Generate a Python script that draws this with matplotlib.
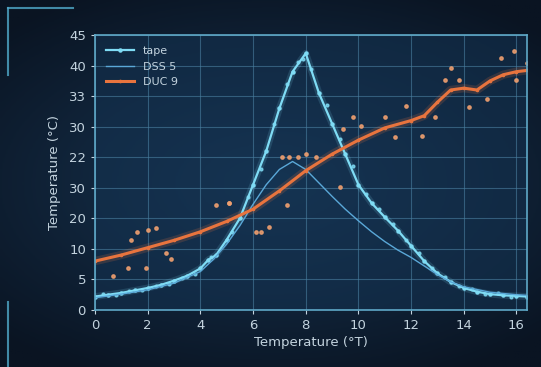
import matplotlib.pyplot as plt
import matplotlib as mpl
import numpy as np

mpl.rcParams['font.family'] = ['DejaVu Sans']

# main cyan curve
main_x = [0, 0.5, 1, 1.5, 2, 2.5, 3, 3.5, 4, 4.3, 4.6, 5, 5.5, 6, 6.5, 7, 7.5, 8,
          8.5, 9, 9.5, 10, 10.5, 11, 11.5, 12, 12.5, 13, 13.5, 14, 14.5, 15, 15.5, 16, 16.4]
main_y = [2.2, 2.5, 2.8, 3.2, 3.6, 4.1, 4.8, 5.6, 6.8, 8.2, 9.0, 11.5, 15.0, 20.5, 26.0,
          33.0, 39.0, 42.0, 35.5, 30.5, 25.5, 20.5, 17.5, 15.2, 13.0, 10.5, 8.0, 6.0,
          4.6, 3.6, 3.0, 2.6, 2.4, 2.3, 2.2]

# cyan noise dots around the main curve
cdots_x = [0.3, 0.8, 1.3, 1.8, 2.3, 2.8, 3.3, 3.8, 4.4, 5.2, 5.8, 6.3, 6.8, 7.3, 7.7,
           7.9, 8.2, 8.8, 9.3, 9.8, 10.3, 10.8, 11.3, 11.8, 12.3, 12.8, 13.3, 13.8,
           14.3, 14.8, 15.3, 15.8]
cdots_y = [2.6, 2.4, 3.1, 3.2, 4.0, 4.2, 5.3, 5.9, 8.6, 12.8, 18.5, 23.0, 30.5, 37.0, 40.5,
           41.0, 39.5, 33.5, 28.0, 23.5, 19.0, 16.5, 14.0, 11.5, 9.4, 6.8, 5.4, 4.0,
           3.4, 2.6, 2.8, 2.2]

# thinner blue curve
thin_x = [0, 1, 2, 3, 4, 4.5, 5, 5.5, 6, 6.5, 7, 7.5, 8, 8.5, 9, 9.5, 10, 10.5,
          11, 11.5, 12, 12.5, 13, 13.5, 14, 15, 16, 16.4]
thin_y = [2.0, 2.6, 3.3, 4.4, 6.3, 8.3, 10.8, 13.8, 17.3, 20.5, 23.0, 24.3, 23.0,
          20.8, 18.6, 16.5, 14.6, 12.8, 11.2, 9.8, 8.6, 7.2, 5.8, 4.6, 3.8, 2.9, 2.5, 2.4]

# orange trend
org_x = [0, 1, 2, 3, 4, 5, 6, 7, 8, 9, 10, 11, 12, 12.5, 13, 13.5, 14, 14.5, 15, 15.5, 16, 16.4]
org_y = [8.0, 9.0, 10.2, 11.4, 12.8, 14.5, 16.5, 19.5, 22.8, 25.5, 27.8, 29.8, 31.0,
         31.8, 34.0, 36.0, 36.3, 36.0, 37.5, 38.5, 39.0, 39.2]

# orange scatter points
dots_x = [0.7, 1.26, 1.37, 1.6, 1.95, 2.0, 2.3, 2.7, 2.9, 4.6, 5.07, 5.1, 6.1, 6.3, 6.6,
          7.1, 7.3, 7.35, 7.7, 8.0, 8.4, 9.3, 9.4, 9.8, 10.1, 11.0, 11.4, 11.8, 12.4,
          12.9, 13.3, 13.5, 13.8, 14.2, 14.9, 15.4, 15.9, 16.0, 16.4]
dots_y = [5.6, 6.8, 11.4, 12.7, 6.8, 13.1, 13.4, 9.4, 8.4, 17.2, 17.5, 17.5, 12.7, 12.7, 13.6,
          25.0, 17.2, 25.0, 25.0, 25.5, 25.0, 20.2, 29.6, 31.6, 30.1, 31.6, 28.3, 33.4, 28.5,
          31.6, 37.6, 39.6, 37.6, 33.3, 34.6, 41.2, 42.4, 37.6, 40.4]

y_ticks = [0, 5, 10, 15, 20, 25, 30, 35, 40, 45]
y_labels = ['0', '5', '10', '20', '30', '22', '30', '33', '40', '45']
x_ticks = [0, 2, 4, 6, 8, 10, 12, 14, 16]
x_labels = ['0', '2', '4', '6', '8', '10', '12', '14', '16']

CYAN = '#7fdcf5'
THIN = '#5aa8d8'
ORANGE = '#e8743e'
TXT = '#c3d3de'

fig = plt.figure(figsize=(5.41, 3.67), dpi=100)
fig.patch.set_facecolor('#0b1625')

# background glow
bg = fig.add_axes([0, 0, 1, 1], zorder=-10)
gx, gy = np.meshgrid(np.linspace(-1, 1, 200), np.linspace(-1, 1, 200))
r = np.sqrt((gx * 0.9) ** 2 + (gy * 1.1) ** 2)
bg.imshow(r, cmap=mpl.colors.LinearSegmentedColormap.from_list('bg', ['#173553', '#0a1422']),
          extent=[0, 1, 0, 1], aspect='auto', vmin=0, vmax=1.3)
bg.axis('off')

# corner brackets
br = '#4fa9c9'
fig.add_artist(plt.Line2D([8/541, 8/541], [1 - 8/367, 1 - 75/367], color=br, lw=1.5, alpha=0.8))
fig.add_artist(plt.Line2D([8/541, 73/541], [1 - 8/367, 1 - 8/367], color=br, lw=1.5, alpha=0.8))
fig.add_artist(plt.Line2D([8/541, 8/541], [0, 1 - 302/367], color=br, lw=1.5, alpha=0.8))

ax = fig.add_axes([95/541, 1 - 310/367, 432/541, 275/367])
ax.set_facecolor((0.08, 0.2, 0.32, 0.55))

# glow under the lines
ax.plot(main_x, main_y, color=CYAN, lw=5, alpha=0.15)
ax.plot(org_x, org_y, color=ORANGE, lw=6, alpha=0.18)

ax.plot(main_x, main_y, '-o', color=CYAN, lw=1.6, ms=2.2, label='tape')
ax.plot(cdots_x, cdots_y, 'o', color=CYAN, ms=2.0, alpha=0.8, lw=0)
ax.plot(thin_x, thin_y, '-', color=THIN, lw=1.0, label='DSS 5')
ax.plot(org_x, org_y, '-o', color=ORANGE, lw=2.2, ms=1.6, label='DUC 9')
ax.plot(dots_x, dots_y, 'o', color='#f0a070', ms=2.4, alpha=0.85, lw=0)

ax.set_xlim(0, 16.4)
ax.set_ylim(0, 45)
ax.set_xticks(x_ticks)
ax.set_xticklabels(x_labels)
ax.set_yticks(y_ticks)
ax.set_yticklabels(y_labels)
ax.tick_params(colors=TXT, labelsize=9.5, length=3)
ax.grid(color='#4a7fa0', lw=0.8, alpha=0.6)
for s in ax.spines.values():
    s.set_color('#5fa9c8')
    s.set_linewidth(1.2)

ax.set_xlabel('Temperature (°T)', color=TXT, fontsize=9.5, labelpad=3)
ax.set_ylabel('Temperature (°C)', color=TXT, fontsize=9.5, labelpad=6)

leg = ax.legend(loc='upper left', frameon=False, fontsize=8, handlelength=2.5,
                labelcolor=TXT, borderaxespad=0.6)

plt.savefig('out.png', dpi=100, facecolor=fig.get_facecolor())
